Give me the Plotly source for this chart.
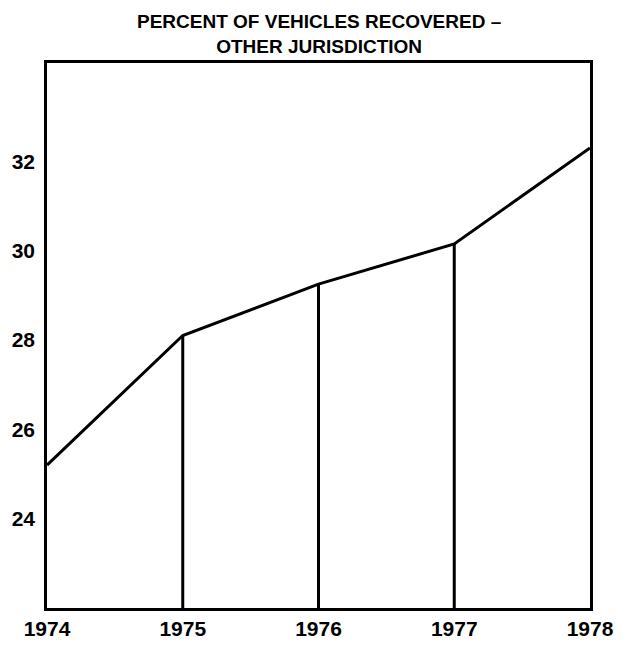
import plotly.graph_objects as go

# Share of stolen vehicles recovered in another jurisdiction
years = [1974, 1975, 1976, 1977, 1978]
percent_recovered = [25.2, 28.1, 29.25, 30.15, 32.3]
y_ticks = [24, 26, 28, 30, 32]
title_lines = ["PERCENT OF VEHICLES RECOVERED \u2013", "OTHER JURISDICTION"]

FONT = "Liberation Sans, Arial, sans-serif"
INK = "#000000"
Y_MIN, Y_MAX = 22.0, 34.2

fig = go.Figure()

# vertical drop lines from each interior year down to the baseline
drop_x, drop_y = [], []
for yr, val in zip(years[1:-1], percent_recovered[1:-1]):
    drop_x += [yr, yr, None]
    drop_y += [Y_MIN, val, None]
fig.add_trace(go.Scatter(
    x=drop_x, y=drop_y, mode="lines",
    line=dict(color=INK, width=3), hoverinfo="skip", showlegend=False,
))

# main trend line
fig.add_trace(go.Scatter(
    x=years, y=percent_recovered, mode="lines",
    line=dict(color=INK, width=3), showlegend=False,
))

# two-line heading above the frame
fig.add_annotation(
    text="<br>".join(title_lines), xref="paper", yref="paper",
    x=0.5, y=1, xanchor="center", yanchor="bottom", yshift=4,
    showarrow=False, align="center",
    font=dict(family=FONT, size=19, color=INK, weight="bold"),
)

fig.update_layout(
    width=634, height=647,
    margin=dict(l=47, r=44, t=63, b=39, autoexpand=False),
    paper_bgcolor="white", plot_bgcolor="white",
    font=dict(family=FONT, color=INK),
)

fig.update_xaxes(
    range=[years[0], years[-1]], tickvals=years, ticktext=[str(y) for y in years],
    showgrid=False, zeroline=False, showline=True, linecolor=INK, linewidth=2.5,
    mirror=True, ticks="", ticklabelstandoff=0, automargin=False,
    tickfont=dict(family=FONT, size=21, color=INK, weight="bold"),
)
fig.update_yaxes(
    range=[Y_MIN, Y_MAX], tickvals=y_ticks, ticktext=[str(v) for v in y_ticks],
    showgrid=False, zeroline=False, showline=True, linecolor=INK, linewidth=2.5,
    mirror=True, ticks="", ticklabelstandoff=5, automargin=False,
    tickfont=dict(family=FONT, size=21, color=INK, weight="bold"),
)

fig.write_html("out.html")
